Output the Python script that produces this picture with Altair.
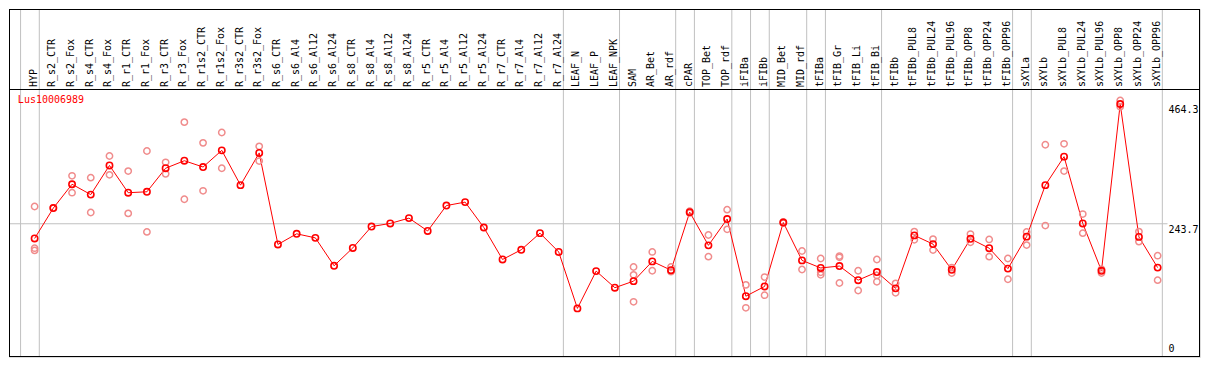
import altair as alt
import pandas as pd

# ---------------- data ----------------
categories = [
    "HYP",
    "R_s2_CTR", "R_s2_Fox", "R_s4_CTR", "R_s4_Fox", "R_r1_CTR", "R_r1_Fox",
    "R_r3_CTR", "R_r3_Fox", "R_r1s2_CTR", "R_r1s2_Fox", "R_r3s2_CTR", "R_r3s2_Fox",
    "R_s6_CTR", "R_s6_Al4", "R_s6_Al12", "R_s6_Al24", "R_s8_CTR", "R_s8_Al4",
    "R_s8_Al12", "R_s8_Al24", "R_r5_CTR", "R_r5_Al4", "R_r5_Al12", "R_r5_Al24",
    "R_r7_CTR", "R_r7_Al4", "R_r7_Al12", "R_r7_Al24",
    "LEAF_N", "LEAF_P", "LEAF_NPK",
    "SAM", "AR_Bet", "AR_rdf",
    "cPAR",
    "TOP_Bet", "TOP_rdf",
    "iFIBa",
    "iFIBb",
    "MID_Bet", "MID_rdf",
    "tFIBa",
    "tFIB_Gr", "tFIB_Li", "tFIB_Bi",
    "tFIBb", "tFIBb_PUL8", "tFIBb_PUL24", "tFIBb_PUL96", "tFIBb_OPP8", "tFIBb_OPP24", "tFIBb_OPP96",
    "sXYLa",
    "sXYLb", "sXYLb_PUL8", "sXYLb_PUL24", "sXYLb_PUL96", "sXYLb_OPP8", "sXYLb_OPP24", "sXYLb_OPP96",
]

# group id of each category (vertical separators between groups)
groups = (
    [0]
    + [1] * 28
    + [2] * 3
    + [3] * 3
    + [4]
    + [5] * 2
    + [6]
    + [7]
    + [8] * 2
    + [9]
    + [10] * 3
    + [11] * 7
    + [12]
    + [13] * 7
)

means = [
    216.6,
    272.6, 316.5, 297.4, 351.1, 300.9, 302.6,
    346.0, 359.8, 348.2, 378.9, 314.8, 374.2,
    205.6, 225.2, 217.7, 166.3, 199.2, 238.5,
    244.3, 254.1, 230.4, 277.2, 283.6, 236.8,
    177.9, 195.8, 226.4, 191.8,
    87.8, 156.5, 125.9,
    138.0, 174.4, 158.2,
    265.1,
    203.9, 252.4,
    110.3,
    128.2,
    246.0, 176.2,
    162.3,
    165.8, 139.8, 154.7,
    124.7, 222.3, 206.2, 158.9, 216.0, 198.7, 161.1,
    220.0,
    314.8, 367.3, 244.3, 157.1, 464.3, 219.5, 162.9,
]

replicates = [
    [275.5, 198.7, 194.6],
    [273.0], [332.0, 300.9], [328.6, 264.5], [368.5, 333.8], [340.7, 262.8], [377.7, 228.7],
    [356.9, 335.6], [430.9, 288.8], [392.7, 304.4], [411.8, 346.0], [], [386.3, 359.2],
    [], [], [], [], [], [],
    [], [], [], [], [], [],
    [], [], [], [],
    [], [], [],
    [164.0, 149.6, 99.9], [191.8, 157.1], [164.0, 155.4],
    [266.8, 263.4],
    [223.0, 183.1], [269.7, 233.4],
    [131.1, 88.9],
    [145.5, 112.1],
    [247.0, 245.0], [193.5, 159.4],
    [179.7, 154.2, 149.6],
    [184.2, 181.9, 134.6], [157.1, 120.8], [177.9, 136.9, 148.5],
    [133.9, 116.6], [229.2, 214.3], [215.4, 195.2], [162.9, 153.0], [224.7, 209.6], [214.8, 183.1], [179.7, 141.5],
    [228.7, 204.4],
    [389.3, 240.3], [391.0, 340.7], [261.6, 226.4], [159.9, 153.0], [470.7, 459.1], [229.2, 210.8], [184.9, 139.8],
]

gene_name = "Lus10006989"
reference_line = 243.7
axis_labels = [464.3, 243.7, 0]

# ---------------- tables ----------------
cat_df = pd.DataFrame({"idx": list(range(len(categories))), "cat": categories, "mean": means})

rep_rows = []
for i, reps in enumerate(replicates):
    for v in reps:
        rep_rows.append({"idx": i, "value": v})
rep_df = pd.DataFrame(rep_rows)

sep_pos = []
for i, g in enumerate(groups):
    if i == 0 or groups[i - 1] != g:
        sep_pos.append(i - 0.75)
sep_pos.append(len(categories) - 1 + 0.25)
sep_df = pd.DataFrame({"pos": sep_pos})

lab_df = pd.DataFrame({"v": axis_labels, "txt": [f"{v:g}" for v in axis_labels]})

# ---------------- layout ----------------
W, H = 1191, 348
REF_W, REF_H = 1209, 370
sx = W / REF_W
sy = H / REF_H
px_per_unit = 0.5772  # reference pixels per data unit
FONT = "DejaVu Sans Mono"
RED = "#ff0000"
PINK = "#f08c8c"
GRAY = "#c0c0c0"

x_scale = alt.Scale(domain=[-26 / 19, (REF_W - 26) / 19], range=[0, W], nice=False, zero=False)
y_scale = alt.Scale(domain=[-1 / px_per_unit, 369 / px_per_unit], range=[H, 0], nice=False, zero=False)

seps = alt.Chart(sep_df).mark_rule(color=GRAY, strokeWidth=1).encode(
    x=alt.X("pos:Q", scale=x_scale, axis=None),
    y=alt.value(0),
    y2=alt.value(H),
)

one = pd.DataFrame({"k": [0]})
border_top = alt.Chart(one).mark_rule(color="black", strokeWidth=1).encode(
    x=alt.value(0), x2=alt.value(W), y=alt.value(0.5))
border_bottom = alt.Chart(one).mark_rule(color="black", strokeWidth=1).encode(
    x=alt.value(0), x2=alt.value(W), y=alt.value(H - 0.5))
border_left = alt.Chart(one).mark_rule(color="black", strokeWidth=1).encode(
    y=alt.value(0), y2=alt.value(H), x=alt.value(0.5))
border_right = alt.Chart(one).mark_rule(color="black", strokeWidth=1).encode(
    y=alt.value(0), y2=alt.value(H), x=alt.value(W - 0.5))

header_line = alt.Chart(one).mark_rule(color="black", strokeWidth=1).encode(
    x=alt.value(0), x2=alt.value(W), y=alt.value(round(85 * sy) + 0.5)
)

grid = alt.Chart(pd.DataFrame({"v": [reference_line]})).mark_rule(color=GRAY, strokeWidth=1).encode(
    y=alt.Y("v:Q", scale=y_scale, axis=None),
    x=alt.value(0),
    x2=alt.value(W * 1176 / REF_W),
)

line = alt.Chart(cat_df).mark_line(color=RED, strokeWidth=1).encode(
    x=alt.X("idx:Q", scale=x_scale, axis=None),
    y=alt.Y("mean:Q", scale=y_scale, axis=None),
)

reps = alt.Chart(rep_df).mark_point(shape="circle", filled=False, color=PINK, size=40, strokeWidth=1.5, opacity=1).encode(
    x=alt.X("idx:Q", scale=x_scale, axis=None),
    y=alt.Y("value:Q", scale=y_scale, axis=None),
)

pts = alt.Chart(cat_df).mark_point(shape="circle", filled=False, color=RED, size=40, strokeWidth=1.6, opacity=1).encode(
    x=alt.X("idx:Q", scale=x_scale, axis=None),
    y=alt.Y("mean:Q", scale=y_scale, axis=None),
)

header_labels = alt.Chart(cat_df).mark_text(
    angle=270, align="left", baseline="middle", font=FONT, fontSize=10, color="black", dx=0, dy=-1
).encode(
    x=alt.X("idx:Q", scale=x_scale, axis=None),
    y=alt.value(83 * sy),
    text="cat:N",
)

gene_label = alt.Chart(pd.DataFrame({"t": [gene_name]})).mark_text(
    align="left", baseline="middle", font=FONT, fontSize=10, color=RED
).encode(x=alt.value(9 * sx), y=alt.value(97 * sy), text="t:N")

top_labels = alt.Chart(lab_df[lab_df["v"] > 0]).mark_text(
    align="left", baseline="top", font=FONT, fontSize=10, color="black", dy=1
).encode(
    x=alt.value(1177 * sx),
    y=alt.Y("v:Q", scale=y_scale, axis=None),
    text="txt:N",
)

zero_label = alt.Chart(lab_df[lab_df["v"] == 0]).mark_text(
    align="left", baseline="bottom", font=FONT, fontSize=10, color="black", dy=-2
).encode(
    x=alt.value(1177 * sx),
    y=alt.Y("v:Q", scale=y_scale, axis=None),
    text="txt:N",
)

chart = (
    alt.layer(seps, grid, header_line, border_top, border_bottom, border_left, border_right,
              line, reps, pts, header_labels, gene_label, top_labels, zero_label)
    .properties(width=W, height=H, padding={"left": 1, "top": 1, "right": 1, "bottom": 1}, autosize="none")
    .configure_view(strokeWidth=0)
    .configure(background="white")
)

chart.save("out.html", embed_options={"renderer": "svg", "actions": False})
